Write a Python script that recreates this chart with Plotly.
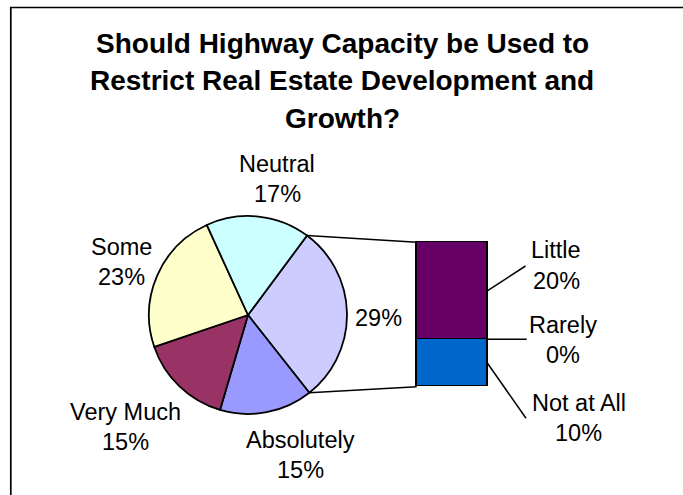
import math
import plotly.graph_objects as go

W, H = 683, 495

# ---------------- data ----------------
title_lines = ["Should Highway Capacity be Used to",
               "Restrict Real Estate Development and",
               "Growth?"]

# main pie categories (clockwise, after the split-off slice)
main_labels = ["Absolutely", "Very Much", "Some", "Neutral"]
main_values = [15.2, 15.2, 23.4, 17.0]
main_colors = ["#9999FF", "#993366", "#FFFFCC", "#CCFFFF"]

# categories broken out into the secondary stacked bar (top to bottom)
bar_labels = ["Little", "Rarely", "Not at All"]
bar_values = [19.6, 0.0, 9.6]
bar_colors = ["#660066", "#FF8080", "#0066CC"]
other_color = "#CCCCFF"

other_value = sum(bar_values)
total = other_value + sum(main_values)


def pct(v):
    return f"{round(v / total * 100)}%"


# ---------------- layout constants (pixels) ----------------
FONT = "Liberation Sans, Arial, Helvetica, sans-serif"
LABEL_SIZE = 23.5
pie_cx, pie_cy, pie_r = 248.0, 315.0, 99.0
rotation = 36.6
bx0, bx1, by0, by1 = 416.7, 487.3, 242.3, 386.7
pad = 6.0
line_gap = 15.3

main_label_pos = {"Neutral": (277, 179), "Some": (121.5, 262),
                  "Very Much": (125.4, 427), "Absolutely": (300, 455)}
other_label_pos = (378.3, 318)
bar_label_pos = {"Little": (556, 265.6), "Rarely": (563, 340),
                 "Not at All": (578.5, 418)}
leader_end = {"Little": (525.5, 266.0), "Rarely": (526.7, None),
              "Not at All": (526.0, 418.3)}


def px(x):
    return x / W


def py(y):
    return 1 - y / H


fig = go.Figure()

# pie of the main categories with the combined "other" slice first
fig.add_trace(go.Pie(
    labels=["Other"] + main_labels,
    values=[other_value] + main_values,
    marker=dict(colors=[other_color] + main_colors,
                line=dict(color="black", width=1.8)),
    sort=False, direction="clockwise", rotation=rotation,
    textinfo="none", hoverinfo="label+percent",
    domain=dict(x=[px(pie_cx - pie_r), px(pie_cx + pie_r)],
                y=[py(pie_cy + pie_r), py(pie_cy - pie_r)]),
    showlegend=False,
))

# secondary stacked bar (bottom segment first)
for lab, val, col in reversed(list(zip(bar_labels, bar_values, bar_colors))):
    fig.add_trace(go.Bar(
        x=[0], y=[val], width=1, name=lab,
        marker=dict(color=col, line=dict(color="black", width=1.6)),
        xaxis="x", yaxis="y", showlegend=False,
        hovertemplate=f"{lab}: {pct(val)}<extra></extra>",
    ))

xpad = pad / (bx1 - bx0)
ypad = pad * other_value / (by1 - by0)

annotations = []


def add_text(x, y, text, size=LABEL_SIZE, bold=False):
    annotations.append(dict(
        x=px(x), y=py(y), xref="paper", yref="paper",
        text=f"<b>{text}</b>" if bold else text, showarrow=False,
        xanchor="center", yanchor="middle",
        font=dict(family=FONT, size=size, color="black")))


# title
for i, t in enumerate(title_lines):
    add_text(342, 43.3 + i * 37.5, t, size=28, bold=True)

# pie labels
for lab, val in zip(main_labels, main_values):
    x, y = main_label_pos[lab]
    add_text(x, y - line_gap, lab)
    add_text(x, y + line_gap, pct(val))
add_text(other_label_pos[0], other_label_pos[1], pct(other_value))

# bar labels
for lab, val in zip(bar_labels, bar_values):
    x, y = bar_label_pos[lab]
    add_text(x, y - line_gap, lab)
    add_text(x, y + line_gap, pct(val))

shapes = []
# outer frame
shapes.append(dict(type="rect", xref="paper", yref="paper",
                   x0=px(10.8), x1=px(W + 20), y0=py(7.5), y1=py(H + 20),
                   line=dict(color="black", width=1.7)))

# connector lines from the split slice to the bar
a0 = math.radians(rotation)
a1 = math.radians(rotation + other_value / total * 360)
for a, by in ((a0, by0), (a1, by1)):
    ex = pie_cx + pie_r * math.sin(a)
    ey = pie_cy - pie_r * math.cos(a)
    shapes.append(dict(type="line", xref="paper", yref="paper",
                       x0=px(ex), y0=py(ey), x1=px(bx0), y1=py(by),
                       line=dict(color="black", width=1.5)))

# leader lines from bar segments to their labels
cum = 0.0
mids = {}
for lab, val in reversed(list(zip(bar_labels, bar_values))):
    mids[lab] = cum + val / 2
    cum += val
for lab in bar_labels:
    ypix = by1 - mids[lab] / other_value * (by1 - by0)
    ex, ey = leader_end[lab]
    if ey is None:
        ey = ypix
    shapes.append(dict(type="line", xref="paper", yref="paper",
                       x0=px(bx1), y0=py(ypix), x1=px(ex), y1=py(ey),
                       line=dict(color="black", width=1.5)))

fig.update_layout(
    width=W, height=H, margin=dict(l=0, r=0, t=0, b=0),
    paper_bgcolor="white", plot_bgcolor="rgba(0,0,0,0)",
    barmode="stack", bargap=0,
    xaxis=dict(domain=[px(bx0 - pad), px(bx1 + pad)],
               range=[-0.5 - xpad, 0.5 + xpad], visible=False, fixedrange=True),
    yaxis=dict(domain=[py(by1 + pad), py(by0 - pad)],
               range=[-ypad, other_value + ypad], visible=False, fixedrange=True),
    annotations=annotations, shapes=shapes,
    font=dict(family=FONT, color="black"),
)

fig.write_html("out.html")
